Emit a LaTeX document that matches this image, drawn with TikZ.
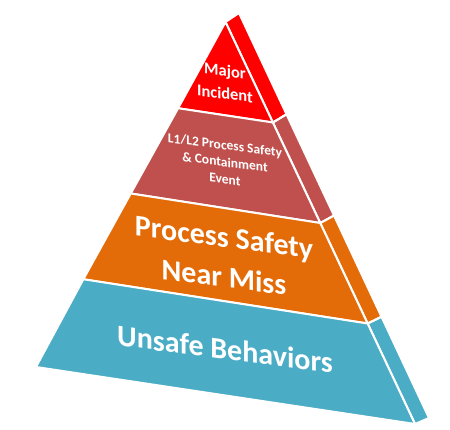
\documentclass[tikz,border=0pt]{standalone}
\usepackage{fontspec}
\setmainfont{Carlito}
\usetikzlibrary{calc}
\definecolor{cRed}{HTML}{FF0000}
\definecolor{cDark}{HTML}{C0504D}
\definecolor{cOrange}{HTML}{E36C09}
\definecolor{cBlue}{HTML}{4BACC6}
\tikzset{
  face/.style={draw=white, line width=2pt, line join=round},
  lbl/.style={text=white, align=center, inner sep=0pt, yslant=-0.13},
}
\begin{document}
\begin{tikzpicture}[x=1pt,y=1pt]
\useasboundingbox (0,0) rectangle (450,430);
% front edge points
\coordinate (L0) at (225.5,408);
\coordinate (L1) at (178.125,321.75);
\coordinate (L2) at (130.75,236.5);
\coordinate (L3) at (83.375,150.75);
\coordinate (L4) at (36,63);
\coordinate (R0) at (225.5,408);
\coordinate (R1) at (272.875,307.5);
\coordinate (R2) at (320.25,207);
\coordinate (R3) at (367.625,106.5);
\coordinate (R4) at (415,6);
% side outer points
\coordinate (S0) at (239,417);
\coordinate (S1) at (286.5,315.75);
\coordinate (S2) at (334,214.5);
\coordinate (S3) at (381.5,113.25);
\coordinate (S4) at (429,12);
% side faces
\fill[cRed] (R0) -- (S0) -- (S1) -- (R1) -- cycle;
\fill[cDark] (R1) -- (S1) -- (S2) -- (R2) -- cycle;
\fill[cOrange] (R2) -- (S2) -- (S3) -- (R3) -- cycle;
\fill[cBlue] (R3) -- (S3) -- (S4) -- (R4) -- cycle;
\draw[face] (R0) -- (S0) -- (S1) -- (R1) -- cycle;
\draw[face] (R1) -- (S1) -- (S2) -- (R2) -- cycle;
\draw[face] (R2) -- (S2) -- (S3) -- (R3) -- cycle;
\draw[face] (R3) -- (S3) -- (S4) -- (R4) -- cycle;
% front faces
\filldraw[face, fill=cRed] (L0) -- (R1) -- (L1) -- cycle;
\filldraw[face, fill=cDark] (L1) -- (R1) -- (R2) -- (L2) -- cycle;
\filldraw[face, fill=cOrange] (L2) -- (R2) -- (R3) -- (L3) -- cycle;
\filldraw[face, fill=cBlue] (L3) -- (R3) -- (R4) -- (L4) -- cycle;
% labels
\node[lbl, font=\bfseries\fontsize{16.5}{23}\selectfont] (t1) at (225,348) {Major\\Incident};
\node[lbl, font=\bfseries\fontsize{13.5}{17}\selectfont] (t2) at (225,268) {L1/L2 Process Safety\\\& Containment\\Event};
\node[lbl, font=\bfseries\fontsize{30}{40}\selectfont] (t3) at (224,173) {Process Safety\\Near Miss};
\node[lbl, font=\bfseries\fontsize{30}{36}\selectfont] (t4) at (225,81) {Unsafe Behaviors};
\end{tikzpicture}
\end{document}
